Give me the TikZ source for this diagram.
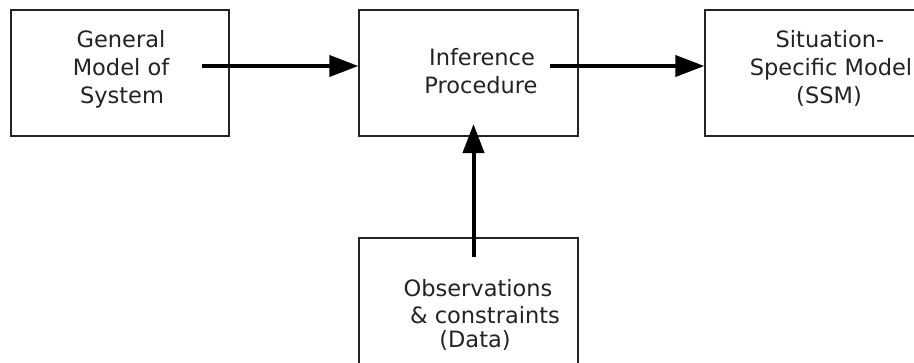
\documentclass[tikz,border=0pt]{standalone}
\usepackage{fontspec}
\setmainfont{DejaVu Sans}
\usetikzlibrary{arrows.meta,calc}
\definecolor{ink}{RGB}{35,35,35}
\begin{document}
\begin{tikzpicture}[x=1pt,y=-1pt,
  box/.style={draw=ink, line width=1.4pt, inner sep=0pt},
  txt/.style={anchor=base, inner sep=0pt, text=ink, font=\fontsize{22.5}{28}\selectfont},
  flow/.style={line width=4pt, draw=black, -{Triangle[length=29pt,width=21pt]}}]
\useasboundingbox (0,0) rectangle (914,362);
\clip (0,0) rectangle (914,362);
\fill[white] (0,0) rectangle (914,362);
% boxes
\node[box, minimum width=218pt, minimum height=126pt] (gm)  at (120,73) {};
\node[box, minimum width=219pt, minimum height=126pt] (ip)  at (468.5,73) {};
\node[box, minimum width=240pt, minimum height=126pt] (ssm) at (825,73) {};
\node[box, minimum width=219pt, minimum height=132pt] (obs) at (468.5,304) {};
% texts
\node[txt] (gm1) at (121,47) {General};
\node[txt] (gm2) at (121,75) {Model of};
\node[txt] (gm3) at (122,103) {System};
\node[txt] (ip1) at (482,65) {Inference};
\node[txt] (ip2) at (481,93) {Procedure};
\node[txt] (ss1) at (830,47) {Situation-};
\node[txt] (ss2) at (831,75) {Specific Model};
\node[txt] (ss3) at (829,103) {(SSM)};
\node[txt] (ob1) at (478,296) {Observations};
\node[txt] (ob2) at (485,323) {\&\ constraints};
\node[txt] (ob3) at (475,347) {(Data)};
% connectors
\coordinate (a1s) at (202,66);
\coordinate (a2s) at (550,66);
\coordinate (a3s) at (473.5,257);
\coordinate (a3e) at (473.5,124);
\draw[flow] (a1s) -- (a1s -| ip.west);
\draw[flow] (a2s) -- (a2s -| ssm.west);
\draw[flow] (a3s) -- (a3e);
\end{tikzpicture}
\end{document}
